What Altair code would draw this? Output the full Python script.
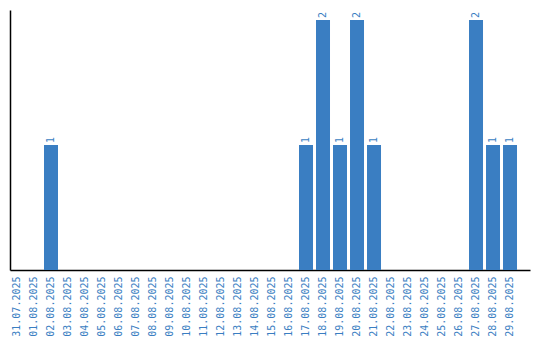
import altair as alt
import pandas as pd

dates = ["31.07.2025", "01.08.2025", "02.08.2025", "03.08.2025", "04.08.2025",
         "05.08.2025", "06.08.2025", "07.08.2025", "08.08.2025", "09.08.2025",
         "10.08.2025", "11.08.2025", "12.08.2025", "13.08.2025", "14.08.2025",
         "15.08.2025", "16.08.2025", "17.08.2025", "18.08.2025", "19.08.2025",
         "20.08.2025", "21.08.2025", "22.08.2025", "23.08.2025", "24.08.2025",
         "25.08.2025", "26.08.2025", "27.08.2025", "28.08.2025", "29.08.2025"]
counts = [0, 0, 1, 0, 0, 0, 0, 0, 0, 0, 0, 0, 0, 0, 0, 0, 0, 1, 2, 1, 2, 1,
          0, 0, 0, 0, 0, 2, 1, 1]

df = pd.DataFrame({"date": dates, "count": counts})
BLUE = "#3a7ec2"

x = alt.X("date:N", sort=dates, title=None,
          scale=alt.Scale(paddingInner=0.1765, paddingOuter=0.382, align=0),
          axis=alt.Axis(labelAngle=-90, labelFont="DejaVu Sans Mono", labelFontSize=10,
                        labelColor=BLUE, ticks=False, domainColor="#000000",
                        domainWidth=1.5, labelPadding=6, labelAlign="right",
                        labelBaseline="middle"))
y = alt.Y("count:Q", title=None, scale=alt.Scale(domain=[0, 2.08], nice=False),
          axis=alt.Axis(labels=False, ticks=False, grid=False, domainColor="#000000",
                        domainWidth=1.5))

bars = alt.Chart(df).mark_bar(color=BLUE).encode(x=x, y=y)
texts = alt.Chart(df).transform_filter("datum.count > 0").mark_text(
    angle=270, align="left", baseline="middle", dx=2, color=BLUE,
    font="DejaVu Sans Mono", fontSize=10
).encode(x=alt.X("date:N", sort=dates), y="count:Q", text="count:Q")

chart = (bars + texts).properties(
    width=520, height=260,
    background="white",
    autosize=alt.AutoSizeParams(type="none"),
    padding={"left": 10, "top": 10, "right": 10, "bottom": 70},
).configure_view(strokeWidth=0)

chart.save("out.html", embed_options={"renderer": "svg", "actions": False})
